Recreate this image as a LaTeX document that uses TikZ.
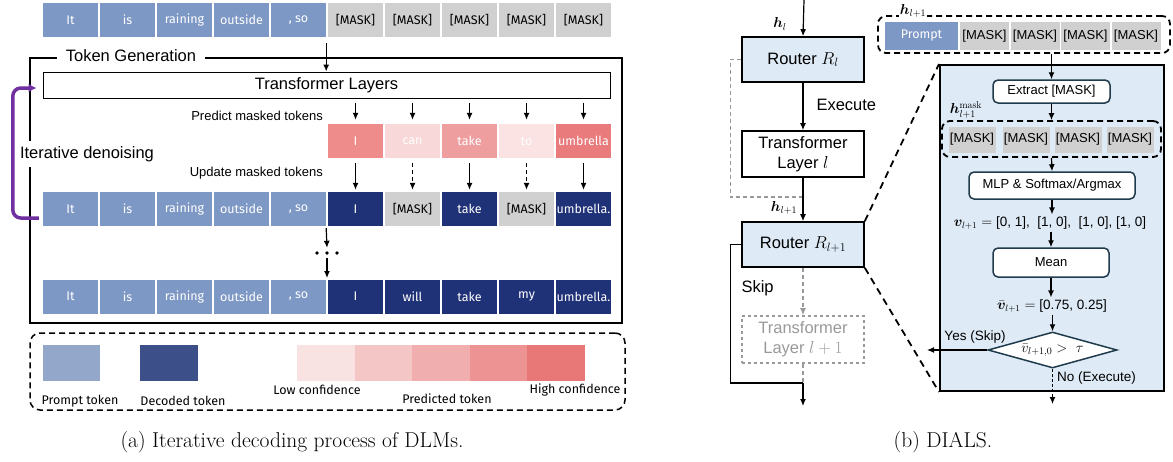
\documentclass[tikz,border=0pt]{standalone}
\usepackage{amsmath,bm}
\usepackage{fontspec}
\newfontfamily\arialf{Liberation Sans}
\newfontfamily\tokf{Fira Sans}
\usetikzlibrary{arrows.meta,shapes.geometric}
\definecolor{pblue}{HTML}{7E98C5}
\definecolor{dblue}{HTML}{1F3278}
\definecolor{mgrey}{HTML}{D0D0D0}
\definecolor{lpblue}{HTML}{93A7CB}
\definecolor{ldblue}{HTML}{3D4F89}
\definecolor{g1}{HTML}{F9E2E2}
\definecolor{g2}{HTML}{F5C6C6}
\definecolor{g3}{HTML}{F0AEAE}
\definecolor{g4}{HTML}{ED9393}
\definecolor{g5}{HTML}{E87878}
\definecolor{pc1}{HTML}{EE8C8C}
\definecolor{pc2}{HTML}{F8D8D9}
\definecolor{pc3}{HTML}{EE9E9F}
\definecolor{pc4}{HTML}{FBE2E3}
\definecolor{pc5}{HTML}{E97B7C}
\definecolor{ipurple}{HTML}{7030A0}
\definecolor{panelblue}{HTML}{DEEAF6}
\definecolor{dteal}{HTML}{1F3B4C}
\definecolor{lgrey}{HTML}{999999}
\tikzset{
  tok/.style={rectangle, minimum width=55pt, minimum height=34pt, inner sep=0pt,
    font=\tokf\fontsize{12.5}{15}\selectfont, text=white},
  ptok/.style={tok, fill=pblue},
  dtok/.style={tok, fill=dblue},
  mtok/.style={tok, fill=mgrey, text=black},
  arr/.style={-{Latex[length=7pt,width=6pt]}, line width=1.2pt},
  alab/.style={font=\arialf\fontsize{13}{15}\selectfont, inner sep=1pt},
  plab/.style={font=\arialf\fontsize{13.5}{16}\selectfont, inner sep=2pt},
  biglab/.style={font=\arialf\fontsize{16.5}{19}\selectfont},
  rbox/.style={draw, line width=1.6pt, minimum width=122pt, inner sep=0pt,
    font=\arialf\fontsize{16.5}{20}\selectfont, align=center},
  ibox/.style={draw=dteal, line width=1.5pt, rounded corners=5pt, fill=white,
    inner sep=0pt, font=\arialf\fontsize{13}{15}\selectfont},
  rmask/.style={rectangle, fill=mgrey, inner sep=0pt, minimum height=27pt,
    font=\arialf\fontsize{13}{15}\selectfont},
  hlab/.style={font=\fontsize{14}{16}\selectfont, inner sep=1pt},
  leglab/.style={font=\tokf\fontsize{12.5}{15}\selectfont, inner sep=0pt},
  zdash/.style={line width=1.8pt, dash pattern=on 7pt off 5pt},
  capt/.style={font=\fontsize{21.5}{25}\selectfont}
}
\begin{document}
\begin{tikzpicture}[x=1pt,y=-1pt]
\useasboundingbox (0,0) rectangle (1173,461);

% ================= (a) =================
\foreach \i/\t in {0/It,1/is,2/raining,3/outside}
  \node[ptok] (a\i) at ({70.5+57*\i},20) {\t};
\node[ptok] (a4) at (298.5,20) {, so};
\foreach \i in {5,...,9}
  \node[mtok] (a\i) at ({70.5+57*\i},20) {[MASK]};

\node[draw, line width=1.8pt, minimum width=592pt, minimum height=265pt, inner sep=0pt] (TG) at (326,190.5) {};
\node[fill=white, inner xsep=9pt, inner ysep=1pt, biglab] (TGl) at (131,56) {Token Generation};
\node[fill=white, inner xsep=2pt, inner ysep=5pt, biglab] (IDl) at (87,154) {Iterative denoising};

\node[draw, line width=1pt, minimum width=567pt, minimum height=26pt, inner sep=0pt, biglab] (TL) at (326.5,85) {Transformer Layers};
\draw[arr] ([yshift=-6pt]a4.south east) -- (TL.north -| a4.south east);

\foreach \i/\t/\c in {5/I/pc1,6/can/pc2,7/take/pc3,8/to/pc4,9/umbrella/pc5}
  \node[tok, fill=\c] (p\i) at ({70.5+57*\i},141) {\t};
\node[alab, anchor=east] (predl) at (324,116) {Predict masked tokens};
\foreach \i in {5,...,9}
  \draw[arr] ([yshift=-4pt]TL.south -| p\i.north) -- ([yshift=4pt]p\i.north);

\foreach \i/\t in {0/It,1/is,2/raining,3/outside}
  \node[ptok] (b\i) at ({70.5+57*\i},209) {\t};
\node[ptok] (b4) at (298.5,209) {, so};
\node[dtok] (b5) at (355.5,209) {I};
\node[mtok] (b6) at (412.5,209) {[MASK]};
\node[dtok] (b7) at (469.5,209) {take};
\node[mtok] (b8) at (526.5,209) {[MASK]};
\node[dtok] (b9) at (583.5,209) {umbrella.};
\node[alab, anchor=east] (updl) at (324,173) {Update masked tokens};
\foreach \i in {5,7,9}
  \draw[arr] ([yshift=-5pt]p\i.south) -- ([yshift=2pt]b\i.north);
\foreach \i in {6,8}
  \draw[arr, dash pattern=on 4pt off 3pt] ([yshift=-5pt]p\i.south) -- ([yshift=2pt]b\i.north);

\node[minimum width=26pt, minimum height=10pt, inner sep=0pt] (dots) at (327,253) {};
\foreach \dx in {-10,0,10}
  \fill ([xshift=\dx pt]dots.center) circle (1.8pt);
\draw[arr] ([yshift=-2pt]b4.south east) -- (dots.north);
\draw[arr] (dots.south) -- ([yshift=2pt]327,280);

\foreach \i/\t in {0/It,1/is,2/raining,3/outside}
  \node[ptok] (c\i) at ({70.5+57*\i},296.5) {\t};
\node[ptok] (c4) at (298.5,296.5) {, so};
\foreach \i/\t in {5/I,6/will,7/take,8/my,9/umbrella.}
  \node[dtok] (c\i) at ({70.5+57*\i},296.5) {\t};

\draw[ipurple, line width=3.5pt, rounded corners=8pt, -{Latex[length=8pt,width=9pt]}]
  ([xshift=-4pt,yshift=-9pt]b0.west) -- ++(-26,0) |- ([xshift=-6pt,yshift=-3pt]TL.west);

\node[draw, line width=1.5pt, dash pattern=on 6pt off 4pt, rounded corners=10pt,
  minimum width=595pt, minimum height=77pt, inner sep=0pt] (leg) at (327.5,371.5) {};
\node[fill=lpblue, minimum width=57pt, minimum height=36pt, inner sep=0pt] (lp) at (71.5,363) {};
\node[fill=ldblue, minimum width=58pt, minimum height=36pt, inner sep=0pt] (ld) at (169,363) {};
\foreach \i/\c in {1/g1,2/g2,3/g3,4/g4,5/g5}
  \node[fill=\c, minimum width=57.8pt, minimum height=36pt, inner sep=0pt] (lg\i) at ({268.2+57.6*\i},363) {};
\node[leglab] (lpl) at (80,401) {Prompt token};
\node[leglab] (ldl) at (183,401) {Decoded token};
\node[leglab] (lowl) at (317,390) {Low confidence};
\node[leglab] (prl) at (447,399) {Predicted token};
\node[leglab] (hil) at (575,390) {High confidence};

\node[capt] (capa) at (292,442) {(a) Iterative decoding process of DLMs.};

% ================= (b) =================
\coordinate (in) at (804,0);
\node[rbox, fill=panelblue, minimum height=45pt] (R1) at (803,59.5) {Router $R_l$};
\node[rbox, fill=white, minimum height=46pt] (T1) at (803,154) {Transformer\\Layer $l$};
\node[rbox, fill=panelblue, minimum height=45pt] (R2) at (803,244.5) {Router $R_{l+1}$};
\node[rbox, draw=lgrey, text=lgrey, dashed, minimum height=47pt] (T2) at (803,339.5) {Transformer\\Layer $l+1$};
\coordinate (j1) at (803,197);
\coordinate (j2) at (803,383);
\coordinate (out) at (803,406);

\draw[arr] (in) -- (R1.north);
\node[hlab] (hl) at (780,24) {$\bm{h}_l$};
\draw[arr] (R1.south) -- (T1.north);
\node[biglab, anchor=west] (exl) at (813,105) {Execute};
\draw[lgrey, line width=1.3pt, dash pattern=on 4pt off 3pt] (R1.west) -- ++(-11,0) |- (j1);
\draw[arr] (T1.south) -- (R2.north);
\node[hlab] (hl1) at (784,208) {$\bm{h}_{l+1}$};
\draw[line width=1.3pt] (R2.west) -- ++(-11,0) |- (j2);
\node[biglab, anchor=west] (skl) at (738,288) {Skip};
\draw[-{Latex[length=7pt,width=6pt]}, line width=1.2pt, lgrey, dash pattern=on 4pt off 3pt] (R2.south) -- (T2.north);
\draw[lgrey, line width=1.2pt, dash pattern=on 4pt off 3pt] (T2.south) -- (j2);
\draw[arr] (j2) -- (out);

\node[draw, line width=2pt, fill=panelblue, minimum width=224pt, minimum height=326pt, inner sep=0pt] (panel) at (1052,228) {};
\node[draw, line width=1.8pt, dash pattern=on 6pt off 4pt, rounded corners=8pt, fill=white,
  minimum width=292pt, minimum height=37pt, inner sep=0pt] (tb) at (1024,34.5) {};
\node[hlab, fill=white] (hl2) at (913,11) {$\bm{h}_{l+1}$};
\node[tok, fill=pblue, minimum width=73pt, minimum height=28pt] (pr) at (921.5,36) {Prompt};
\foreach \i in {0,...,3}
  \node[rmask, minimum width=49pt, minimum height=28pt] (tm\i) at ({984.5+50.5*\i},36) {[MASK]};

\node[ibox, minimum width=117pt, minimum height=23pt] (ex) at (1051.5,91.5) {Extract [MASK]};
\draw[arr] (tb.south -| ex.north) -- (ex.north);

\node[draw, line width=1.8pt, dash pattern=on 6pt off 4pt, rounded corners=8pt,
  minimum width=219pt, minimum height=36pt, inner sep=0pt] (mb) at (1051.5,139) {};
\node[hlab, fill=panelblue] (hm) at (966,110) {$\bm{h}_{l+1}^{\mathrm{mask}}$};
\foreach \i/\x in {0/972,1/1026,2/1078,3/1130}
  \node[rmask, minimum width=47pt, minimum height=26pt] (mm\i) at (\x,139.5) {[MASK]};
\draw[arr] (ex.south) -- (mb.north);

\node[ibox, minimum width=166pt, minimum height=27pt] (mlp) at (1052,185.5) {MLP \& Softmax/Argmax};
\draw[arr] (mb.south) -- (mlp.north);

\node[plab] (vl) at (1050,223) {$\bm{v}_{l+1}=$ [0, 1],\ \ [1, 0],\ \ [1, 0], [1, 0]};
\draw[arr] (mlp.south) -- (vl.north -| mlp.south);
\node[ibox, minimum width=116pt, minimum height=29pt] (mean) at (1051,262.5) {Mean};
\draw[arr] (vl.south -| mean.north) -- (mean.north);
\node[plab] (vb) at (1052,306) {$\bar{\bm{v}}_{l+1}=$ [0.75, 0.25]};
\draw[arr] (mean.south) -- (vb.north -| mean.south);
\node[diamond, draw=dteal, line width=1.5pt, fill=white, aspect=3.5, inner sep=0pt,
  minimum width=129pt, minimum height=36pt, font=\fontsize{14}{16}\selectfont] (dia) at (1052.5,350) {$\bar{v}_{l+1,0} >\ \tau$};
\draw[arr] (vb.south -| dia.north) -- (dia.north);
\coordinate (yes) at (927,350);
\coordinate (no) at (1052.5,404);
\draw[arr] (dia.west) -- (yes);
\node[plab] (yesl) at (975,337) {Yes (Skip)};
\draw[arr, dash pattern=on 3pt off 2pt] (dia.south) -- (no);
\node[plab, anchor=west] (nol) at (1055,378) {No (Execute)};

\draw[zdash] (R2.north east) -- (panel.north west);
\draw[zdash] (R2.south east) -- (panel.south west);

\node[capt] (capb) at (943,442) {(b) DIALS.};
\end{tikzpicture}
\end{document}
